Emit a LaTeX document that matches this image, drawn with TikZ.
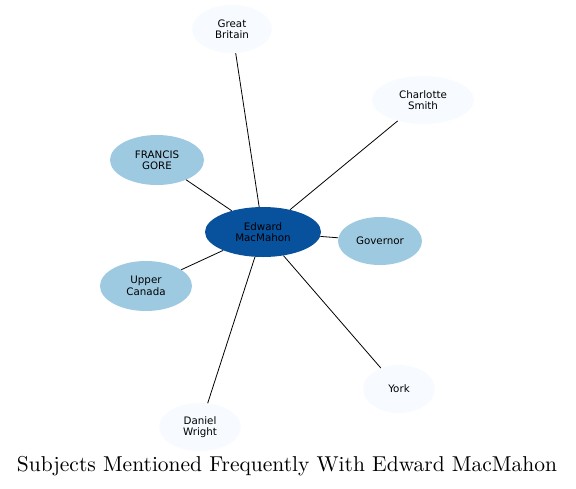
\documentclass[tikz,border=0pt]{standalone}
\usepackage{fontspec}
\newfontfamily\nodefont{DejaVu Sans}
\newfontfamily\titlefont{lmroman10-regular.otf}
\usetikzlibrary{shapes.geometric}
\definecolor{bl1}{HTML}{F7FBFF}
\definecolor{bl2}{HTML}{9ECAE1}
\definecolor{bl3}{HTML}{08519C}
\begin{document}
\begin{tikzpicture}[x=1pt,y=-1pt,
  ent/.style={ellipse,draw=none,inner sep=0pt,align=center,font=\nodefont\fontsize{10.3}{11.5}\selectfont},
  lite/.style={ent,fill=bl1},
  mid/.style={ent,fill=bl2},
  dark/.style={ent,fill=bl3},
  link/.style={draw=black,line width=0.8pt}]
\useasboundingbox (0,0) rectangle (576,488);
\node[dark,minimum width=116pt,minimum height=50pt] (em) at (263,232) {Edward\\MacMahon};
\node[lite,minimum width=80pt,minimum height=48pt] (gb) at (232,29) {Great\\Britain};
\node[lite,minimum width=102pt,minimum height=48pt] (cs) at (423,100) {Charlotte\\Smith};
\node[mid,minimum width=94pt,minimum height=50pt] (fg) at (157,160) {FRANCIS\\GORE};
\node[mid,minimum width=84pt,minimum height=48pt] (gov) at (380,241) {Governor};
\node[mid,minimum width=92pt,minimum height=50pt] (uc) at (146,286) {Upper\\Canada};
\node[lite,minimum width=72pt,minimum height=48pt] (york) at (399,389) {York};
\node[lite,minimum width=82pt,minimum height=48pt] (dw) at (200,427) {Daniel\\Wright};
\foreach \t in {gb,cs,fg,gov,uc,york,dw}{\draw[link] (em) -- (\t);}
\node[font=\titlefont\fontsize{21.5}{26}\selectfont,inner sep=0pt] (title) at (287,466) {Subjects Mentioned Frequently With Edward MacMahon};
\end{tikzpicture}
\end{document}
